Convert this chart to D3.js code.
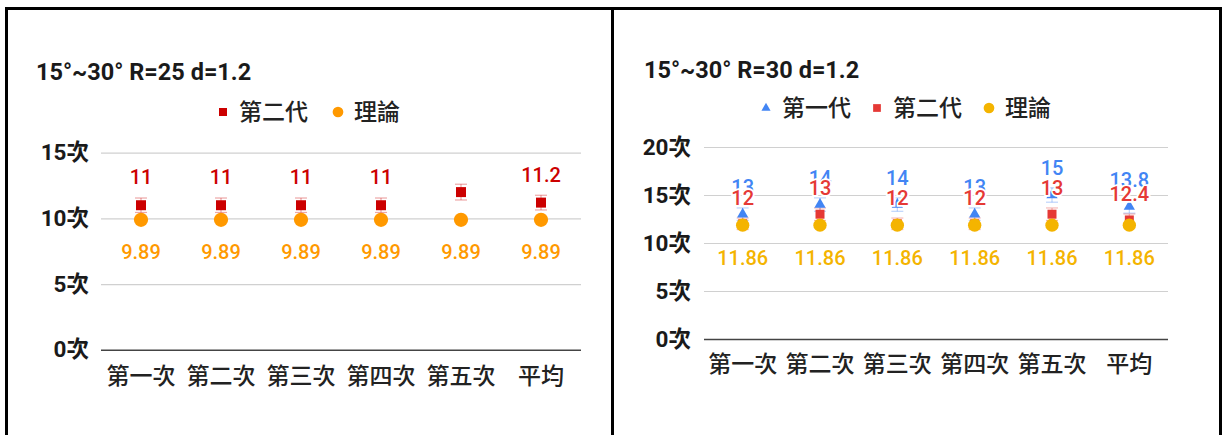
<!DOCTYPE html>
<html>
<head>
<meta charset="utf-8">
<script src="https://cdn.jsdelivr.net/npm/d3@7"></script>
<style>
  html, body { margin: 0; padding: 0; background: #fff; }
  svg { display: block; }
  text { font-family: Roboto, "Noto Sans CJK TC", "Noto Sans CJK SC", sans-serif; }
</style>
</head>
<body>
<svg id="chart" width="1224" height="435"></svg>
<script>
// Trial categories (shared by both panels)
const categories = ["第一次", "第二次", "第三次", "第四次", "第五次", "平均"];

// Panel A: 15°~30° R=25 d=1.2
const titleA = "15°~30° R=25 d=1.2";
const gen2A = [11, 11, 11, 11, 12, 11.2];
const theoryA = [9.89, 9.89, 9.89, 9.89, 9.89, 9.89];
const gen2AShowLabel = [true, true, true, true, false, true];
const ticksA = [0, 5, 10, 15];

// Panel B: 15°~30° R=30 d=1.2
const titleB = "15°~30° R=30 d=1.2";
const gen1B = [13, 14, 14, 13, 15, 13.8];
const gen2B = [12, 13, 12, 12, 13, 12.4];
const theoryB = [11.86, 11.86, 11.86, 11.86, 11.86, 11.86];
const ticksB = [0, 5, 10, 15, 20];

// Relative error bar size (fraction of the value)
const errorFraction = 0.05;

const FONT = 'Roboto, "Noto Sans CJK TC", sans-serif';
const svg = d3.select("#chart");

function drawPanel(cfg) {
  const g = svg.append("g");
  const x = d3.scaleBand().domain(categories).range([cfg.x0, cfg.x1]);
  const y = d3.scaleLinear().domain([0, cfg.ticks[cfg.ticks.length - 1]]).range([cfg.y0, cfg.y1]);
  const cx = c => x(c) + x.bandwidth() / 2;

  // title
  g.append("text")
    .attr("x", cfg.titleX).attr("y", cfg.titleY)
    .attr("font-size", 23.5).attr("font-weight", 700).attr("fill", "#1a1a1a")
    .text(cfg.title);

  // legend
  const lg = g.append("g");
  cfg.series.forEach((s, i) => {
    const lx = cfg.legendX[i];
    lg.append("path")
      .attr("transform", `translate(${lx},${cfg.legendY})`)
      .attr("d", d3.symbol().type(s.symbol).size(s.legendSize)())
      .attr("fill", s.color);
    lg.append("text")
      .attr("x", lx + 16).attr("y", cfg.legendY)
      .attr("dy", "0.36em")
      .attr("font-size", 23).attr("font-weight", 500).attr("fill", "#222")
      .text(s.name);
  });

  // gridlines and y-axis
  const yAxis = d3.axisLeft(y).tickValues(cfg.ticks)
    .tickSize(-(cfg.x1 - cfg.x0)).tickPadding(12)
    .tickFormat(d => d + "次");
  const ya = g.append("g").attr("transform", `translate(${cfg.x0},0)`).call(yAxis);
  ya.select(".domain").remove();
  ya.selectAll(".tick line")
    .attr("stroke", d => d === 0 ? "#444" : "#d0d0d0")
    .attr("stroke-width", d => d === 0 ? 1.6 : 1.2);
  ya.selectAll(".tick text")
    .attr("x", cfg.yLabelRight - cfg.x0)
    .attr("font-size", 22.5).attr("font-weight", 700).attr("fill", "#1a1a1a")
    .attr("font-family", FONT);

  // x-axis category labels
  const xAxis = d3.axisBottom(x).tickSize(0).tickPadding(0);
  const xa = g.append("g").attr("transform", `translate(0,${cfg.catY})`).call(xAxis);
  xa.select(".domain").remove();
  xa.selectAll(".tick text")
    .attr("dy", "0.36em")
    .attr("font-size", 23).attr("font-weight", 500).attr("fill", "#222")
    .attr("font-family", FONT);

  // error bars
  cfg.series.filter(s => s.errorBars).forEach(s => {
    const eb = g.append("g").attr("stroke", s.color).attr("stroke-opacity", 0.35).attr("stroke-width", 1.2);
    s.values.forEach((v, i) => {
      const c = cx(categories[i]);
      const yt = y(v * (1 + errorFraction)), yb = y(v * (1 - errorFraction));
      eb.append("line").attr("x1", c).attr("x2", c).attr("y1", yt).attr("y2", yb);
      eb.append("line").attr("x1", c - 6).attr("x2", c + 6).attr("y1", yt).attr("y2", yt);
      eb.append("line").attr("x1", c - 6).attr("x2", c + 6).attr("y1", yb).attr("y2", yb);
    });
  });

  // markers
  cfg.series.forEach(s => {
    g.append("g").selectAll("path").data(s.values).join("path")
      .attr("transform", (v, i) => `translate(${cx(categories[i])},${y(v)})`)
      .attr("d", d3.symbol().type(s.symbol).size(s.size)())
      .attr("fill", s.color);
  });

  // data labels (placed above or below each point)
  cfg.series.forEach(s => {
    const pts = s.values
      .map((v, i) => ({ v, cat: categories[i], show: !s.showLabel || s.showLabel[i] }))
      .filter(p => p.show);
    g.append("g").selectAll("text").data(pts).join("text")
      .attr("x", p => cx(p.cat))
      .attr("y", p => y(p.v) + s.labelOffset)
      .attr("dy", "0.36em")
      .attr("text-anchor", "middle")
      .attr("font-size", 20).attr("font-weight", 500)
      .attr("fill", s.labelColor)
      .attr("stroke", "#fff").attr("stroke-width", 3.5)
      .attr("paint-order", "stroke")
      .text(p => p.v);
  });
}

drawPanel({
  title: titleA, titleX: 36, titleY: 80,
  x0: 101, x1: 581, y0: 349.7, y1: 152.7, ticks: ticksA,
  yLabelRight: 89, catY: 376,
  legendX: [223, 338], legendY: 112,
  series: [
    { name: "第二代", values: gen2A, symbol: d3.symbolSquare, size: 100, legendSize: 64,
      color: "#cc0000", labelColor: "#cc0000", labelOffset: -28, showLabel: gen2AShowLabel, errorBars: true },
    { name: "理論", values: theoryA, symbol: d3.symbolCircle, size: 160, legendSize: 90,
      color: "#ff9900", labelColor: "#ff9900", labelOffset: 32 }
  ]
});

drawPanel({
  title: titleB, titleX: 644, titleY: 78,
  x0: 704, x1: 1168, y0: 339, y1: 147, ticks: ticksB,
  yLabelRight: 691, catY: 364,
  legendX: [766, 877, 989], legendY: 108,
  series: [
    { name: "第一代", values: gen1B, symbol: d3.symbolTriangle, size: 55, legendSize: 36,
      color: "#4285f4", labelColor: "#4285f4", labelOffset: -27, errorBars: true },
    { name: "第二代", values: gen2B, symbol: d3.symbolSquare, size: 81, legendSize: 60,
      color: "#e53935", labelColor: "#e53935", labelOffset: -26.5, errorBars: true },
    { name: "理論", values: theoryB, symbol: d3.symbolCircle, size: 140, legendSize: 90,
      color: "#f4b400", labelColor: "#f4b400", labelOffset: 33 }
  ]
});

// panel frame lines
const frame = svg.append("g").attr("stroke", "#000").attr("stroke-width", 3);
frame.append("line").attr("x1", 5).attr("x2", 1222).attr("y1", 8.5).attr("y2", 8.5);
frame.append("line").attr("x1", 6.5).attr("x2", 6.5).attr("y1", 7).attr("y2", 435);
frame.append("line").attr("x1", 612.5).attr("x2", 612.5).attr("y1", 7).attr("y2", 435);
frame.append("line").attr("x1", 1220.5).attr("x2", 1220.5).attr("y1", 7).attr("y2", 435);
</script>
</body>
</html>
